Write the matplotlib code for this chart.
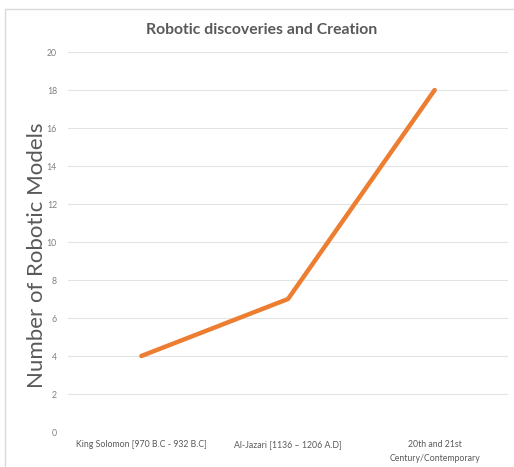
import matplotlib.pyplot as plt
from matplotlib.patches import Rectangle

# data
categories = ["King Solomon [970 B.C - 932 B.C]",
              "Al-Jazari [1136 \u2013 1206 A.D]",
              "20th and 21st\nCentury/Contemporary"]
models = [4, 7, 18]
y_ticks = [0, 2, 4, 6, 8, 10, 12, 14, 16, 18, 20]

plt.rcParams['font.family'] = ['Lato', 'DejaVu Sans']

W, H = 514, 467
fig = plt.figure(figsize=(W / 100, H / 100), dpi=100)

# chart frame (light gray, runs off the right and bottom)
fig.patches.append(Rectangle((5 / W, -0.1), 1.2, (H - 9) / H + 0.1,
                             transform=fig.transFigure, fill=False,
                             edgecolor='#d9d9d9', linewidth=1))

ax = fig.add_axes([68 / W, 1 - 432 / H, 440 / W, 380 / H])
x = list(range(len(categories)))
ax.plot(x, models, color='#ED7D31', linewidth=3.2, solid_capstyle='round', zorder=3)

ax.set_xlim(-0.5, len(categories) - 0.5)
ax.set_ylim(0, 20)
ax.set_yticks(y_ticks)
ax.set_xticks(x)
ax.set_xticklabels(categories, fontsize=6.3, color='#595959', linespacing=1.6)
ax.tick_params(axis='y', labelsize=6.3, labelcolor='#808080', length=0, pad=8)
ax.tick_params(axis='x', length=0, pad=6)
ax.grid(axis='y', color='#e3e3e3', linewidth=0.8)
ax.set_axisbelow(True)
for s in ax.spines.values():
    s.set_visible(False)

fig.text(37 / W, 1 - 255 / H, "Number of Robotic Models", rotation=90,
         ha='center', va='center', fontsize=16, color='#595959')
fig.text(262 / W, 1 - 30 / H, "Robotic discoveries and Creation",
         ha='center', va='center', fontsize=11.3, fontweight='bold', color='#595959')

fig.savefig('out.png', dpi=100)
